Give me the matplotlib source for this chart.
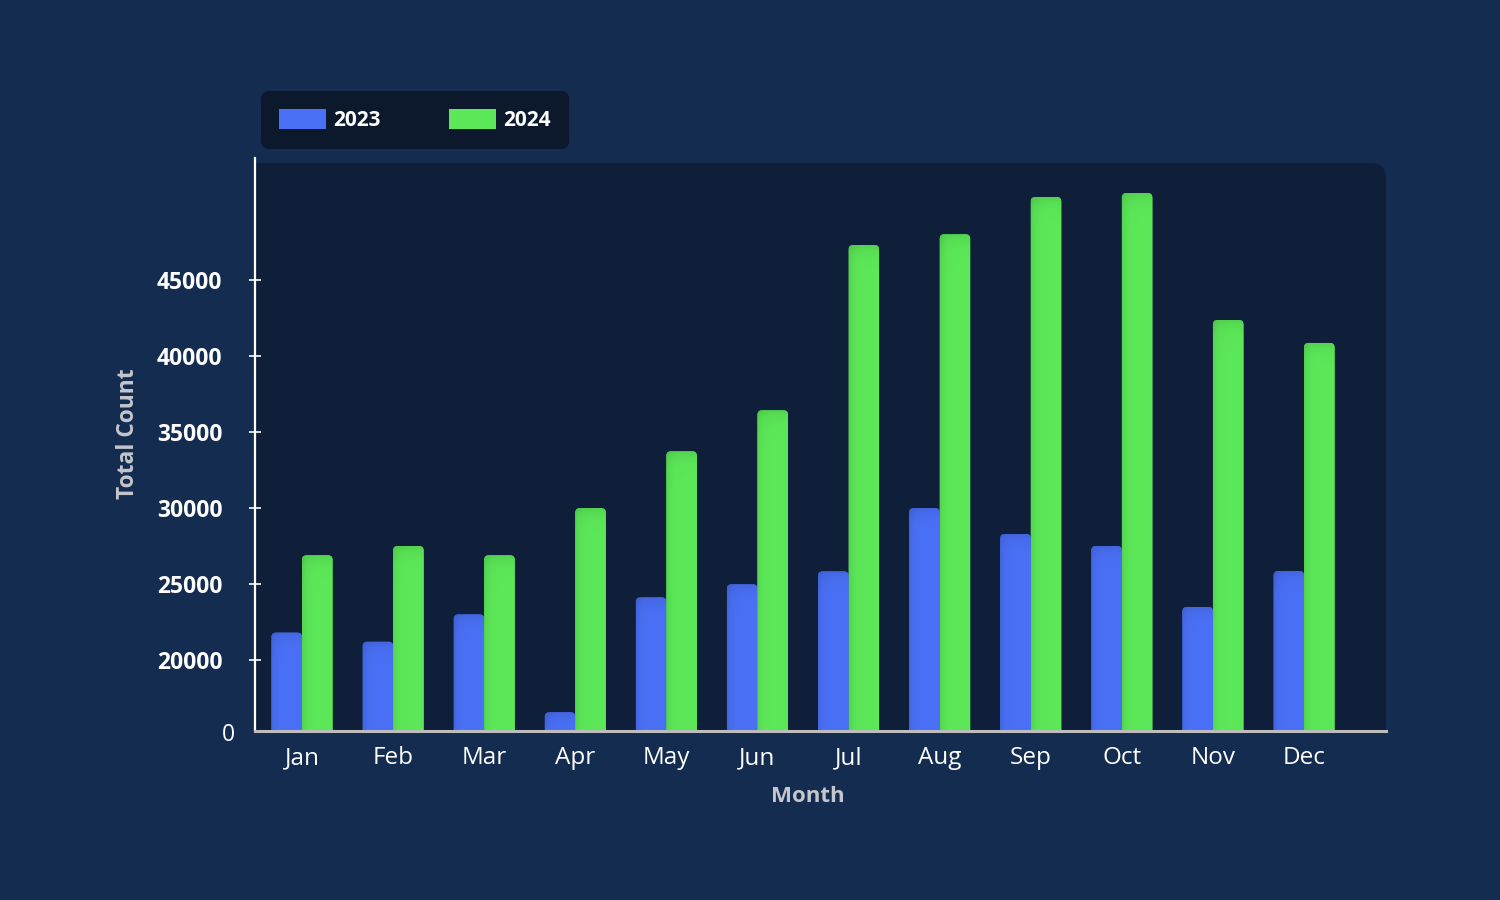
import numpy as np
import matplotlib
matplotlib.use("Agg")
import matplotlib.pyplot as plt
from matplotlib.patches import FancyBboxPatch, Rectangle, Patch

# ---------------- data ----------------
months = ["Jan", "Feb", "Mar", "Apr", "May", "Jun",
          "Jul", "Aug", "Sep", "Oct", "Nov", "Dec"]
values_2023 = [21800, 21200, 23000, 16560, 24120, 24980,
               25830, 29990, 28290, 27500, 23490, 25850]
values_2024 = [26890, 27500, 26890, 29990, 33730, 36430,
               47300, 48010, 50460, 50720, 42370, 40860]
series_labels = ["2023", "2024"]
ytick_values = [20000, 25000, 30000, 35000, 40000, 45000]
ytick_labels = ["20000", "25000", "30000", "35000", "40000", "45000"]
bottom_label = "0"
y_limits = (15330, 53030)

# ---------------- style ----------------
FIG_BG = "#142c50"
PLOT_BG = "#0f1f3a"
LEGEND_BG = "#0c192d"
BLUE = "#4a70f6"
GREEN = "#5ce858"
AXLABEL = "#c4c6cc"
FONT = ["Open Sans", "DejaVu Sans"]
plt.rcParams["font.family"] = FONT

W, H = 1500, 900
fig = plt.figure(figsize=(15, 9), dpi=100)
fig.patch.set_facecolor(FIG_BG)

L, R, T, B = 255, 1386, 158, 731
ax = fig.add_axes([L / W, 1 - B / H, (R - L) / W, (B - T) / H])
ax.set_facecolor("none")

# plot background (rounded top-right corner)
bg_top = 163
bg = FancyBboxPatch((L / W, 1 - B / H), (R - L) / W, (B - bg_top) / H,
                    boxstyle="round,pad=0,rounding_size=0.01",
                    mutation_aspect=W / H, transform=fig.transFigure,
                    facecolor=PLOT_BG, edgecolor="none", zorder=-2)
fig.patches.append(bg)
fig.patches.append(Rectangle((L / W, 1 - B / H), (R - 100 - L) / W, (B - bg_top) / H,
                             transform=fig.transFigure, facecolor=PLOT_BG,
                             edgecolor="none", zorder=-2))
fig.patches.append(Rectangle((L / W, 1 - B / H), (R - L) / W, (B - 400) / H,
                             transform=fig.transFigure, facecolor=PLOT_BG,
                             edgecolor="none", zorder=-2))

x = np.arange(len(months))
bw = 0.335
ax.set_xlim(-0.516, 11.9)
ax.set_ylim(*y_limits)

bars1 = ax.bar(x - bw / 2, values_2023, bw, color=BLUE, label=series_labels[0], zorder=2)
bars2 = ax.bar(x + bw / 2, values_2024, bw, color=GREEN, label=series_labels[1], zorder=2)

# replace bars with rounded, shaded versions
px_per_x = (R - L) / (ax.get_xlim()[1] - ax.get_xlim()[0])
px_per_y = (B - T) / (y_limits[1] - y_limits[0])
radius_px = 4.5


def to_rgb(c):
    return np.array(matplotlib.colors.to_rgb(c))


for bars, col in ((bars1, BLUE), (bars2, GREEN)):
    base = to_rgb(col)
    for rect in bars:
        rx, rw = rect.get_x(), rect.get_width()
        top = rect.get_y() + rect.get_height()
        bot = y_limits[0] - 2000
        rect.set_visible(False)
        fb = FancyBboxPatch((rx, bot), rw, top - bot,
                            boxstyle=f"round,pad=0,rounding_size={radius_px / px_per_x}",
                            mutation_aspect=px_per_x / px_per_y,
                            facecolor=col, edgecolor="none", zorder=2)
        ax.add_patch(fb)
        # inner shading gradient
        hpx = max(int((top - bot) * px_per_y), 2)
        wpx = max(int(rw * px_per_x), 2)
        xs = np.arange(wpx)[None, :] + 0.5
        ys = np.arange(hpx)[:, None] + 0.5
        shade = 1 - 0.10 * np.exp(-xs / 4.0) - 0.10 * np.exp(-ys / 7.0)
        img = np.clip(base[None, None, :] * shade[:, :, None], 0, 1)
        im = ax.imshow(img, extent=(rx, rx + rw, bot, top), origin="upper",
                       aspect="auto", interpolation="bilinear", zorder=3)
        im.set_clip_path(fb)

ax.set_xlim(-0.516, 11.9)
ax.set_ylim(*y_limits)

# spines
for s in ("top", "right"):
    ax.spines[s].set_visible(False)
ax.spines["left"].set_color("white")
ax.spines["left"].set_linewidth(1.6)
ax.spines["bottom"].set_color("#bdbdbd")
ax.spines["bottom"].set_linewidth(2.2)
ax.spines["left"].set_zorder(5)
ax.spines["bottom"].set_zorder(5)

# ticks
ax.set_yticks(ytick_values)
ax.set_yticklabels(ytick_labels, fontsize=16.5, fontweight="bold", color="white")
ax.tick_params(axis="y", direction="inout", length=8, width=1.2, color="white", pad=19.5)
ax.set_xticks(x)
ax.set_xticklabels(months, fontsize=17.5, color="white")
ax.tick_params(axis="x", length=0, pad=11)

# bottom "0" label
fig.text(235 / W, 1 - 735 / H, bottom_label, ha="right", va="center",
         fontsize=16.5, color="white")

# axis labels
fig.text(808 / W, 1 - 796 / H, "Month", ha="center", va="center",
         fontsize=16, fontweight="bold", color=AXLABEL)
fig.text(128 / W, 1 - 434 / H, "Total Count", ha="center", va="center",
         rotation=90, fontsize=16.4, fontweight="bold", color=AXLABEL)

# legend
handles = [Patch(facecolor=BLUE, edgecolor="none"),
           Patch(facecolor=GREEN, edgecolor="none")]
leg = ax.legend(handles=handles, labels=series_labels, ncol=2,
                loc="upper left", bbox_to_anchor=(261 / W, 1 - 91 / H),
                bbox_transform=fig.transFigure, borderaxespad=0,
                fontsize=15, frameon=True, fancybox=True,
                handlelength=2.26, handleheight=1.1, handletextpad=0.34,
                columnspacing=3.3, borderpad=0.86)
for t in leg.get_texts():
    t.set_color("white")
    t.set_fontweight("bold")
fr = leg.get_frame()
fr.set_facecolor(LEGEND_BG)
fr.set_edgecolor("none")
fr.set_alpha(1)
fr.set_boxstyle("round,pad=0,rounding_size=0.4")

fig.savefig("out.png", dpi=100, facecolor=FIG_BG)
